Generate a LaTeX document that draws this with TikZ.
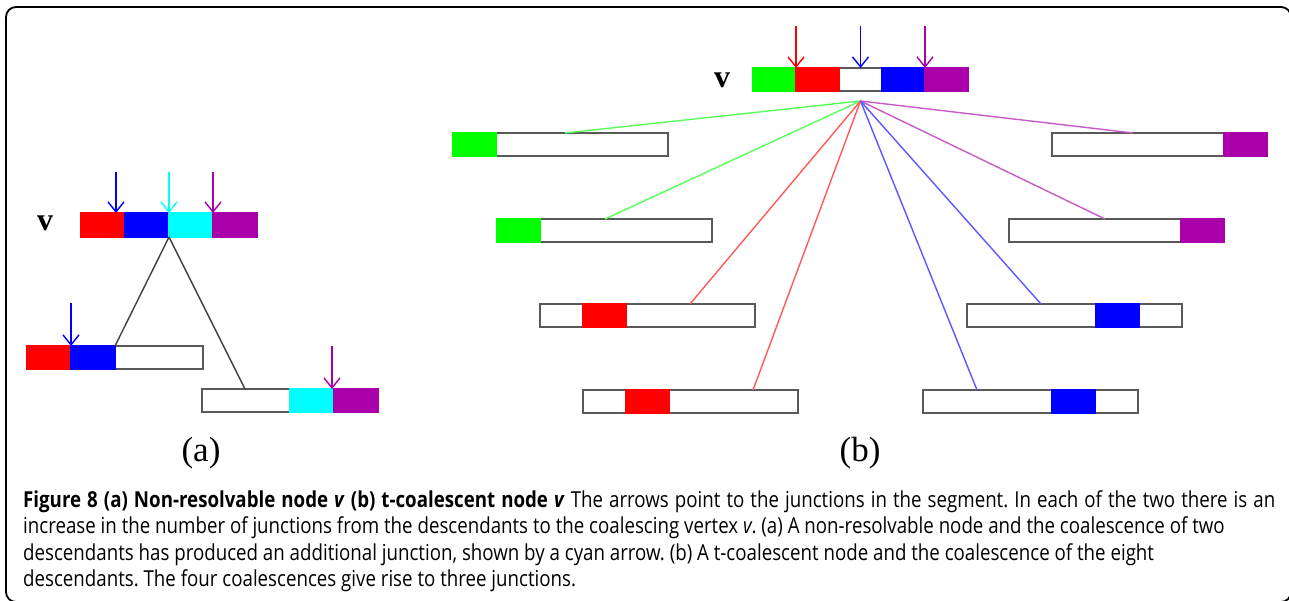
\documentclass[tikz,border=0pt]{standalone}
\usepackage{fontspec}
\setmainfont{Open Sans}[FakeStretch=0.85]
\newfontfamily\figserif{Liberation Serif}
\usetikzlibrary{arrows.meta,positioning}
\frenchspacing

\definecolor{segred}{RGB}{255,0,0}
\definecolor{segblue}{RGB}{0,0,255}
\definecolor{seggreen}{RGB}{0,255,0}
\definecolor{segcyan}{RGB}{0,255,255}
\definecolor{segpurple}{RGB}{170,0,170}

\tikzset{
  bar/.style={draw=black!65, line width=1.5pt, fill=white, minimum height=23pt,
    inner sep=0pt, outer sep=0pt, anchor=north west},
  cell/.style={fill=#1, draw=#1, line width=1.5pt, minimum width=43pt,
    minimum height=23pt, inner sep=0pt, outer sep=0pt, anchor=north west},
  acell/.style={cell=#1, minimum width=44pt, minimum height=24pt},
  junc/.style={-{Straight Barb[length=10pt,width=16pt]}, line width=1.4pt},
  link/.style={line width=1.4pt},
  vlabel/.style={font=\figserif\bfseries\fontsize{32}{32}\selectfont},
  sublabel/.style={font=\figserif\fontsize{35}{35}\selectfont},
  capline/.style={anchor=base west, inner sep=0pt, font=\fontsize{22}{26}\selectfont}
}

\begin{document}
\begin{tikzpicture}[x=1pt,y=-1pt]
\useasboundingbox (0,0) rectangle (1289,600);
\draw[line width=1.8pt, rounded corners=10pt] (6,7) rectangle (1291,602);

% (a) non-resolvable node
\node[vlabel] (va-lab) at (45,223) {v};
\node[bar, minimum width=176pt, minimum height=24pt] (va) at (81,213) {};
\node[acell=segred] (va1) at (81,213) {};
\node[acell=segblue, right=0pt of va1] (va2) {};
\node[acell=segcyan, right=0pt of va2] (va3) {};
\node[acell=segpurple, right=0pt of va3] (va4) {};

\node[bar, minimum width=176pt] (al) at (27,346) {};
\node[acell=segred, minimum height=23pt] (al1) at (27,346) {};
\node[acell=segblue, minimum height=23pt, right=0pt of al1] (al2) {};

\node[bar, minimum width=176pt] (ar) at (202,389) {};
\node[acell=segcyan, minimum height=23pt] (ar3) at (290,389) {};
\node[acell=segpurple, minimum height=23pt, right=0pt of ar3] (ar4) {};

\draw[link, black!75] (va2.south east) -- (al2.north east);
\draw[link, black!75] (va2.south east) -- ([xshift=43pt]ar.north west);

\draw[junc, segblue] ([shift={(-9,-41)}]va2.north west) -- ([xshift=-9pt]va2.north west);
\draw[junc, segcyan] ([yshift=41pt]va3.north west) -- (va3.north west);
\draw[junc, segpurple] ([yshift=41pt]va4.north west) -- (va4.north west);
\draw[junc, segblue] ([yshift=43pt]al2.north west) -- (al2.north west);
\draw[junc, segpurple] ([shift={(-2,-43)}]ar4.north west) -- ([xshift=-2pt]ar4.north west);

\node[sublabel] (a-lab) at (201,453) {(a)};

% (b) t-coalescent node
\node[vlabel] (vb-lab) at (722,80) {v};
\node[bar, minimum width=215pt] (vb) at (753,68) {};
\node[cell=seggreen] (vb1) at (753,68) {};
\node[cell=segred, right=0pt of vb1] (vb2) {};
\node[cell=segblue] (vb4) at (882,68) {};
\node[cell=segpurple, right=0pt of vb4] (vb5) {};

\draw[junc, segred] ([yshift=42pt]vb2.north west) -- (vb2.north west);
\draw[junc, segblue] ([yshift=42pt]vb.north) -- (vb.north);
\draw[junc, segpurple] ([yshift=42pt]vb5.north west) -- (vb5.north west);

\coordinate (j) at ([yshift=-10pt]vb.south);

% descendants, left column
\node[bar, minimum width=215pt] (l1) at (453,133) {};
\node[cell=seggreen] (l1c) at (453,133) {};
\node[bar, minimum width=215pt] (l2) at (497,219) {};
\node[cell=seggreen] (l2c) at (497,219) {};
\node[bar, minimum width=215pt] (l3) at (540,304) {};
\node[cell=segred] (l3c) at (583,304) {};
\node[bar, minimum width=215pt] (l4) at (583,390) {};
\node[cell=segred] (l4c) at (626,390) {};

% descendants, right column
\node[bar, minimum width=215pt] (r1) at (1052,133) {};
\node[cell=segpurple] (r1c) at (1224,133) {};
\node[bar, minimum width=215pt] (r2) at (1009,219) {};
\node[cell=segpurple] (r2c) at (1181,219) {};
\node[bar, minimum width=215pt] (r3) at (967,304) {};
\node[cell=segblue] (r3c) at (1096,304) {};
\node[bar, minimum width=215pt] (r4) at (923,390) {};
\node[cell=segblue] (r4c) at (1052,390) {};

\draw[link, seggreen!65] (j) -- ([xshift=112pt]l1.north west);
\draw[link, seggreen!65] (j) -- ([xshift=108pt]l2.north west);
\draw[link, segred!65] (j) -- ([xshift=150pt]l3.north west);
\draw[link, segred!65] (j) -- ([xshift=170pt]l4.north west);
\draw[link, segpurple!65] (j) -- ([xshift=81pt]r1.north west);
\draw[link, segpurple!65] (j) -- ([xshift=96pt]r2.north west);
\draw[link, segblue!65] (j) -- ([xshift=74pt]r3.north west);
\draw[link, segblue!65] (j) -- ([xshift=54pt]r4.north west);

\node[sublabel] (b-lab) at (860,453) {(b)};

% caption
\node[capline] (cap1) at (23,507) {\makebox[1252pt][s]{\textbf{Figure 8 (a) Non-resolvable node \textit{v} (b) t-coalescent node \textit{v}} The arrows point to the junctions in the segment. In each of the two there is an}};
\node[capline] (cap2) at (23,533.5) {increase in the number of junctions from the descendants to the coalescing vertex \textit{v}. (a) A non-resolvable node and the coalescence of two};
\node[capline] (cap3) at (23,560) {descendants has produced an additional junction, shown by a cyan arrow. (b) A t-coalescent node and the coalescence of the eight};
\node[capline] (cap4) at (23,586.5) {descendants. The four coalescences give rise to three junctions.};
\end{tikzpicture}
\end{document}
